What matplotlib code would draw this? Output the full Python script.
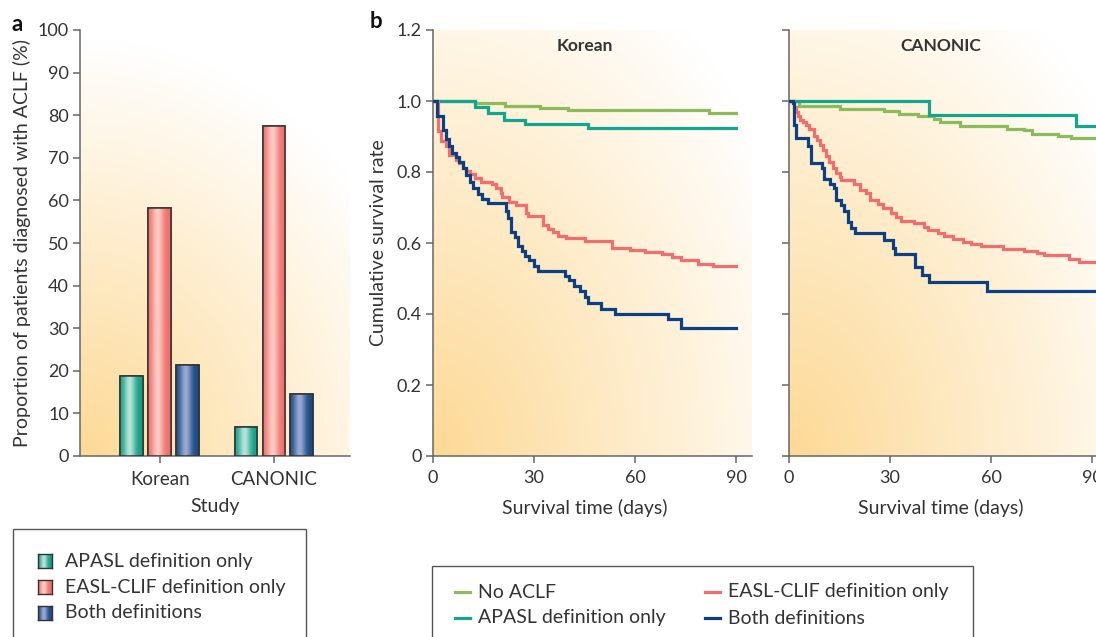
import numpy as np
import matplotlib
matplotlib.use("Agg")
import matplotlib.pyplot as plt
from matplotlib.patches import Rectangle
from matplotlib.lines import Line2D
from matplotlib.colors import to_rgb

plt.rcParams['font.family'] = ['Lato', 'DejaVu Sans']

# ---------------- data ----------------
studies = ["Korean", "CANONIC"]
bar_labels = ["APASL definition only", "EASL-CLIF definition only", "Both definitions"]
apasl_pct = [18.8, 6.9]
easl_pct = [58.2, 77.5]
both_pct = [21.3, 14.5]

# Korean cohort (time in days, survival after step)
k_noaclf_t = [12.4, 21.3, 31.9, 40.1, 82.0]
k_noaclf_s = [0.994, 0.987, 0.981, 0.974, 0.965]
k_apasl_t = [12.4, 16.4, 21.2, 27.3, 46.1]
k_apasl_s = [0.982, 0.965, 0.947, 0.935, 0.923]
k_easl_t = [1.5, 2.5, 3.8, 4.7, 6.7, 7.7, 8.9, 9.9, 10.9, 12.4, 14.4, 17.6, 18.8, 20.1, 20.6,
            22.6, 24.6, 27.6, 28.2, 32.7, 34.2, 35.5, 37.2, 39.6, 45.1, 53.3, 58.5, 62.9, 67.9,
            70.9, 73.8, 78.8, 83.3]
k_easl_s = [0.915, 0.886, 0.872, 0.849, 0.835, 0.824, 0.811, 0.802, 0.793, 0.783, 0.771, 0.765,
            0.755, 0.741, 0.729, 0.715, 0.708, 0.685, 0.675, 0.652, 0.640, 0.630, 0.621, 0.614,
            0.605, 0.586, 0.580, 0.575, 0.569, 0.561, 0.553, 0.542, 0.535]
k_both_t = [1.3, 3.0, 3.8, 4.7, 5.5, 6.7, 7.7, 8.9, 9.9, 10.9, 11.9, 13.4, 14.7, 16.4, 21.6, 22.3,
            23.3, 24.5, 25.3, 26.3, 27.4, 28.5, 29.9, 31.2, 39.3, 40.3, 41.8, 43.8, 45.1, 46.1,
            50.0, 54.0, 69.9, 73.8]
k_both_s = [0.957, 0.917, 0.893, 0.874, 0.854, 0.842, 0.827, 0.810, 0.792, 0.772, 0.754, 0.739,
            0.725, 0.712, 0.689, 0.671, 0.631, 0.617, 0.591, 0.577, 0.563, 0.552, 0.535, 0.521,
            0.508, 0.495, 0.478, 0.464, 0.449, 0.432, 0.415, 0.401, 0.386, 0.361]

# CANONIC cohort
c_noaclf_t = [3.1, 15.1, 28.3, 32.8, 38.2, 43.2, 44.9, 50.8, 64.7, 69.9, 72.1, 79.8, 83.8]
c_noaclf_s = [0.987, 0.977, 0.971, 0.964, 0.957, 0.948, 0.940, 0.929, 0.922, 0.917, 0.908, 0.902, 0.896]
c_apasl_t = [41.5, 85.3]
c_apasl_s = [0.960, 0.929]
c_easl_t = [1.6, 2.1, 2.6, 3.4, 4.1, 5.0, 6.0, 7.5, 8.3, 9.3, 10.0, 11.0, 12.0, 13.0, 14.0, 15.0,
            15.4, 19.2, 21.2, 22.9, 24.2, 26.5, 27.8, 30.3, 31.8, 33.3, 37.2, 40.0, 41.2, 44.2,
            46.1, 48.6, 51.6, 54.1, 57.0, 63.5, 69.9, 73.7, 75.8, 83.3, 86.2]
c_easl_s = [0.983, 0.968, 0.957, 0.947, 0.940, 0.931, 0.921, 0.902, 0.889, 0.877, 0.861, 0.844,
            0.827, 0.811, 0.797, 0.786, 0.777, 0.767, 0.750, 0.741, 0.722, 0.710, 0.699, 0.685,
            0.674, 0.661, 0.655, 0.645, 0.638, 0.629, 0.621, 0.610, 0.603, 0.598, 0.591, 0.584,
            0.577, 0.572, 0.566, 0.555, 0.547]
c_both_t = [1.1, 1.4, 2.1, 5.7, 6.5, 9.7, 10.3, 12.3, 13.3, 14.0, 15.4, 16.4, 17.6, 18.4, 19.6,
            28.3, 30.8, 31.5, 37.4, 39.4, 41.7, 58.7]
c_both_s = [0.994, 0.933, 0.896, 0.874, 0.826, 0.811, 0.780, 0.767, 0.755, 0.722, 0.708, 0.689,
            0.659, 0.643, 0.627, 0.608, 0.586, 0.568, 0.532, 0.509, 0.491, 0.466]

line_labels = ["No ACLF", "APASL definition only", "EASL-CLIF definition only", "Both definitions"]
km_ticks = [0, 30, 60, 90]
surv_ticks = [0, 0.2, 0.4, 0.6, 0.8, 1.0, 1.2]
surv_ticklabels = ["0", "0.2", "0.4", "0.6", "0.8", "1.0", "1.2"]

# ---------------- styles ----------------
C_GREEN = "#8cbb5c"
C_TEAL = "#12a590"
C_RED = "#f26d6d"
C_BLUE = "#0d3f83"
bar_dark = ["#0f9f86", "#ee6e6c", "#1a4985"]
bar_light = ["#b7e2d8", "#fdcbc3", "#9aa9d2"]
bar_mid = ["#5cc0aa", "#f59a95", "#5670a8"]
BG_ORANGE = np.array(to_rgb("#fdd995"))
SPINE = "#666666"
TXT = "#333333"
FS_TICK = 13
FS_LAB = 14
FS_LEG = 14

W, H = 1096, 637
fig = plt.figure(figsize=(W / 100, H / 100), dpi=100)
fig.patch.set_facecolor("white")


def fx(px):
    return px / W


def fy(py):
    return 1 - py / H


def bar_gradient(i):
    prof = np.linspace(0, 1, 64)
    l = np.exp(-((prof - 0.42) / 0.26) ** 2)
    d = np.array(to_rgb(bar_dark[i]))
    lt = np.array(to_rgb(bar_light[i]))
    return (d[None, :] + (lt - d)[None, :] * l[:, None])[None, :, :]


def add_bg(ax, rx, ry, power=1.0):
    x0, x1 = ax.get_xlim()
    y0, y1 = ax.get_ylim()
    u = np.linspace(0, 1, 300)
    v = np.linspace(0, 1, 300)
    U, V = np.meshgrid(u, v)
    t = np.sqrt((U / rx) ** 2 + (V / ry) ** 2)
    f = np.clip(1 - t, 0, 1) ** power
    img = 1 - (1 - BG_ORANGE)[None, None, :] * f[:, :, None]
    ax.imshow(img, extent=[x0, x1, y0, y1], origin="lower", aspect="auto", zorder=0,
              interpolation="bilinear")
    ax.set_xlim(x0, x1)
    ax.set_ylim(y0, y1)


def style_axes(ax):
    for s in ["top", "right"]:
        ax.spines[s].set_visible(False)
    for s in ["left", "bottom"]:
        ax.spines[s].set_color(SPINE)
        ax.spines[s].set_linewidth(1.1)
    ax.tick_params(direction="out", length=5, width=1.1, color=SPINE, labelcolor=TXT,
                   labelsize=FS_TICK, pad=3)


# ---------------- panel a ----------------
axa = fig.add_axes([fx(80), fy(456), fx(270), fy(30) - fy(456)])
axa.set_xlim(-0.70, 1.667)
axa.set_ylim(0, 100)
add_bg(axa, 1.35, 0.98, 1.0)
style_axes(axa)
x = np.arange(len(studies))
bw = 0.2
off = 0.245
series = [apasl_pct, easl_pct, both_pct]
for i, vals in enumerate(series):
    bars = axa.bar(x + (i - 1) * off, vals, width=bw, color=bar_mid[i], edgecolor="#333333",
                   linewidth=1.1, zorder=3)
    grad = bar_gradient(i)
    for b in bars:
        bx, by = b.get_x(), b.get_y()
        im = axa.imshow(grad, extent=[bx, bx + b.get_width(), by, by + b.get_height()],
                        aspect="auto", zorder=3.5, interpolation="bilinear")
        im.set_clip_path(b)
        axa.add_patch(Rectangle((bx, by), b.get_width(), b.get_height(), fill=False,
                                edgecolor="#333333", linewidth=1.1, zorder=4))
axa.set_xlim(-0.70, 1.667)
axa.set_ylim(0, 100)
axa.set_xticks(x)
axa.set_xticklabels(studies)
axa.set_yticks(np.arange(0, 101, 10))
axa.tick_params(axis="x", labelsize=FS_TICK + 0.5, pad=6)
axa.set_xlabel("Study", fontsize=FS_LAB, color=TXT, labelpad=7)
axa.set_ylabel("Proportion of patients diagnosed with ACLF (%)", fontsize=FS_LAB, color=TXT,
               labelpad=5)


# ---------------- panel b ----------------
def km_axes(left_px, title, curves, show_ylabels):
    ax = fig.add_axes([fx(left_px), fy(456), fx(319), fy(30) - fy(456)])
    ax.set_xlim(0, 94.75)
    ax.set_ylim(0, 1.2)
    add_bg(ax, 1.25, 1.3, 1.0)
    style_axes(ax)
    for (t, s, c, tend) in curves:
        tt = [0] + list(t) + [tend]
        ss = [1.0] + list(s) + [s[-1]]
        ax.step(tt, ss, where="post", color=c, linewidth=2.3, zorder=3, solid_joinstyle="miter")
    ax.set_xticks(km_ticks)
    ax.set_yticks(surv_ticks)
    if show_ylabels:
        ax.set_yticklabels(surv_ticklabels)
    else:
        ax.set_yticklabels([])
    ax.tick_params(axis="x", labelsize=FS_TICK, pad=5)
    ax.set_xlabel("Survival time (days)", fontsize=FS_LAB, color=TXT, labelpad=9)
    ax.xaxis.set_label_coords(45 / 94.75, -0.1)
    ax.text(0.476, 0.963, title, transform=ax.transAxes, ha="center", va="center",
            fontsize=12.5, fontweight="bold", color=TXT)
    return ax


axk = km_axes(433, "Korean",
              [(k_noaclf_t, k_noaclf_s, C_GREEN, 90), (k_apasl_t, k_apasl_s, C_TEAL, 90),
               (k_easl_t, k_easl_s, C_RED, 90), (k_both_t, k_both_s, C_BLUE, 90)], True)
axk.set_ylabel("Cumulative survival rate", fontsize=FS_LAB, color=TXT, labelpad=7)

axc = km_axes(789, "CANONIC",
              [(c_noaclf_t, c_noaclf_s, C_GREEN, 92), (c_apasl_t, c_apasl_s, C_TEAL, 92),
               (c_easl_t, c_easl_s, C_RED, 92), (c_both_t, c_both_s, C_BLUE, 92)], False)

# panel letters
fig.text(fx(12), fy(31), "a", fontsize=16, fontweight="bold", color="#111111", va="baseline")
fig.text(fx(370), fy(28), "b", fontsize=16, fontweight="bold", color="#111111", va="baseline")

# ---------------- legend a (boxed, cut by figure edge) ----------------
fig.patches.append(Rectangle((fx(13), fy(660)), fx(293), fy(529) - fy(660), transform=fig.transFigure,
                             fill=False, edgecolor="#555555", linewidth=1.0, clip_on=False))
rows_a = [561, 587, 613]
for i, lab in enumerate(bar_labels):
    sq = fig.add_axes([fx(38), fy(rows_a[i] + 7), fx(14), fy(rows_a[i] - 7) - fy(rows_a[i] + 7)])
    sq.imshow(bar_gradient(i), aspect="auto", interpolation="bilinear", extent=[0, 1, 0, 1])
    sq.set_xticks([])
    sq.set_yticks([])
    for s in sq.spines.values():
        s.set_color("#333333")
        s.set_linewidth(1.0)
    fig.text(fx(65), fy(rows_a[i]), lab, fontsize=FS_LEG, color=TXT, va="center", ha="left")

# ---------------- legend b ----------------
fig.patches.append(Rectangle((fx(432), fy(660)), fx(541), fy(566) - fy(660), transform=fig.transFigure,
                             fill=False, edgecolor="#555555", linewidth=1.0, clip_on=False))
line_cols = [C_GREEN, C_TEAL, C_RED, C_BLUE]
pos_b = [(455, 592), (455, 618), (705, 592), (705, 618)]
for (px, py), lab, c in zip(pos_b, line_labels, line_cols):
    fig.lines.append(Line2D([fx(px), fx(px + 15)], [fy(py), fy(py)], transform=fig.transFigure,
                            color=c, linewidth=2.3))
    fig.text(fx(px + 23), fy(py), lab, fontsize=FS_LEG, color=TXT, va="center", ha="left")

fig.savefig("out.png", dpi=100)
